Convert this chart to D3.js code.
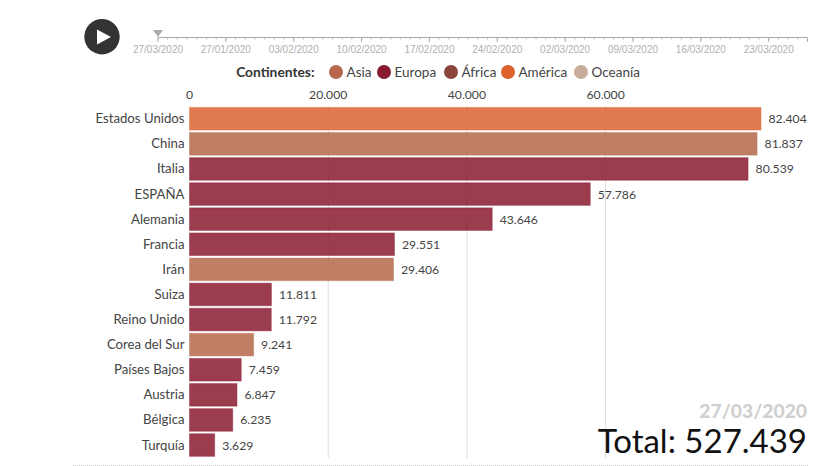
<!DOCTYPE html>
<html>
<head>
<meta charset="utf-8">
<script src="https://cdn.jsdelivr.net/npm/d3@7"></script>
<style>
  html, body { margin: 0; padding: 0; background: #fff; }
  svg { display: block; font-family: Lato, sans-serif; }
  text { fill: #444; }
</style>
</head>
<body>
<svg width="833" height="466"></svg>
<script>
const countries = ["Estados Unidos", "China", "Italia", "ESPAÑA", "Alemania", "Francia", "Irán", "Suiza", "Reino Unido", "Corea del Sur", "Países Bajos", "Austria", "Bélgica", "Turquía"];
const cases = [82404, 81837, 80539, 57786, 43646, 29551, 29406, 11811, 11792, 9241, 7459, 6847, 6235, 3629];
const continentOf = ["América", "Asia", "Europa", "Europa", "Europa", "Europa", "Asia", "Europa", "Europa", "Asia", "Europa", "Europa", "Europa", "Europa"];
const continents = ["Asia", "Europa", "África", "América", "Oceanía"];
const continentColors = ["#b5694a", "#8a1a30", "#8c4539", "#dc6330", "#c8ac9a"];
const xTicks = [0, 20000, 40000, 60000];
const timelineLabels = ["27/03/2020", "27/01/2020", "03/02/2020", "10/02/2020", "17/02/2020", "24/02/2020", "02/03/2020", "09/03/2020", "16/03/2020", "23/03/2020"];
const currentDate = "27/03/2020";
const total = "Total: 527.439";

const svg = d3.select("svg");
const es = d3.formatLocale({decimal: ",", thousands: ".", grouping: [3], currency: ["", "€"]}).format(",");

const color = d3.scaleOrdinal().domain(continents).range(continentColors);
const x = d3.scaleLinear().domain([0, 82404]).range([189.5, 761]);
const y = d3.scaleBand().domain(countries).range([106.2, 457.6]).paddingInner(0.1).paddingOuter(0.05);

// timeline
const parseDate = d3.timeParse("%d/%m/%Y");
const t = d3.scaleTime().domain([parseDate("20/01/2020"), parseDate("27/03/2020")]).range([158, 807.5]);
const tl = svg.append("g").attr("class", "timeline");
tl.append("line").attr("x1", t.range()[0]).attr("x2", t.range()[1]).attr("y1", 37.5).attr("y2", 37.5)
  .attr("stroke", "#aaa");
tl.selectAll(".minor").data(d3.timeDay.range(t.domain()[0], t.domain()[1])).join("line")
  .attr("x1", d => t(d)).attr("x2", d => t(d)).attr("y1", 37.5).attr("y2", 39.5)
  .attr("stroke", "#bbb");
const majorDates = timelineLabels.slice(1).map(parseDate);
majorDates.unshift(t.domain()[0]);
tl.selectAll(".major").data(majorDates.concat([t.domain()[1]])).join("line")
  .attr("x1", d => t(d)).attr("x2", d => t(d)).attr("y1", 37.5).attr("y2", 42)
  .attr("stroke", "#aaa");
tl.selectAll("text").data(majorDates).join("text")
  .attr("x", d => t(d)).attr("y", 52.5).attr("text-anchor", "middle")
  .attr("font-family", "Liberation Sans").attr("font-size", 10)
  .style("fill", "#b0b0b0")
  .text((d, i) => timelineLabels[i]);
tl.append("path").attr("d", "M153,30H163L158,37Z").attr("fill", "#aaa");

// play button
svg.append("circle").attr("cx", 102).attr("cy", 36.7).attr("r", 17.7).attr("fill", "#333");
svg.append("path").attr("d", "M97,29.5L111,37L97,44.5Z").attr("fill", "#fff");

// legend
svg.append("text").attr("x", 314.5).attr("y", 77).attr("text-anchor", "end")
  .attr("font-size", 13.8).attr("font-weight", 700).style("fill", "#333").text("Continentes:");
const legendX = [336, 384, 451, 508, 581];
const legend = svg.selectAll(".legend").data(continents).join("g")
  .attr("transform", (d, i) => `translate(${legendX[i]},72)`);
legend.append("circle").attr("r", 7).attr("fill", d => color(d));
legend.append("text").attr("x", 10.5).attr("y", 5).attr("font-size", 13.5).text(d => d);

// gridlines and axis
svg.selectAll(".grid").data(xTicks.slice(1)).join("line")
  .attr("x1", d => x(d)).attr("x2", d => x(d)).attr("y1", 106).attr("y2", 458)
  .attr("stroke", "#ddd");
svg.selectAll(".xlab").data(xTicks).join("text")
  .attr("x", d => x(d)).attr("y", 99).attr("text-anchor", "middle")
  .attr("font-size", 12.2).text(d => es(d));

// bars
svg.selectAll(".bar").data(countries).join("rect")
  .attr("x", x(0)).attr("y", d => y(d))
  .attr("width", (d, i) => x(cases[i]) - x(0)).attr("height", y.bandwidth())
  .attr("fill", (d, i) => color(continentOf[i])).attr("fill-opacity", 0.85)
  .attr("stroke", (d, i) => color(continentOf[i])).attr("stroke-opacity", 0.4);

svg.selectAll(".name").data(countries).join("text")
  .attr("x", 184.5).attr("y", d => y(d) + y.bandwidth() / 2 + 4.5).attr("text-anchor", "end")
  .attr("font-size", 13.2).text(d => d);
svg.selectAll(".val").data(cases).join("text")
  .attr("x", d => x(d) + 7.5).attr("y", (d, i) => y(countries[i]) + y.bandwidth() / 2 + 4.5)
  .attr("font-size", 12.2).text(d => es(d));

// date and total
svg.append("text").attr("x", 807).attr("y", 417.7).attr("text-anchor", "end")
  .attr("font-size", 19.3).attr("font-weight", 900).style("fill", "#d0d0d0").text(currentDate);
svg.append("text").attr("x", 807).attr("y", 452.7).attr("text-anchor", "end")
  .attr("font-size", 33).attr("font-weight", 400).style("fill", "#111").text(total);

svg.append("line").attr("x1", 73).attr("x2", 808).attr("y1", 465.5).attr("y2", 465.5)
  .attr("stroke", "#ccc").attr("stroke-dasharray", "1,1");
</script>
</body>
</html>
